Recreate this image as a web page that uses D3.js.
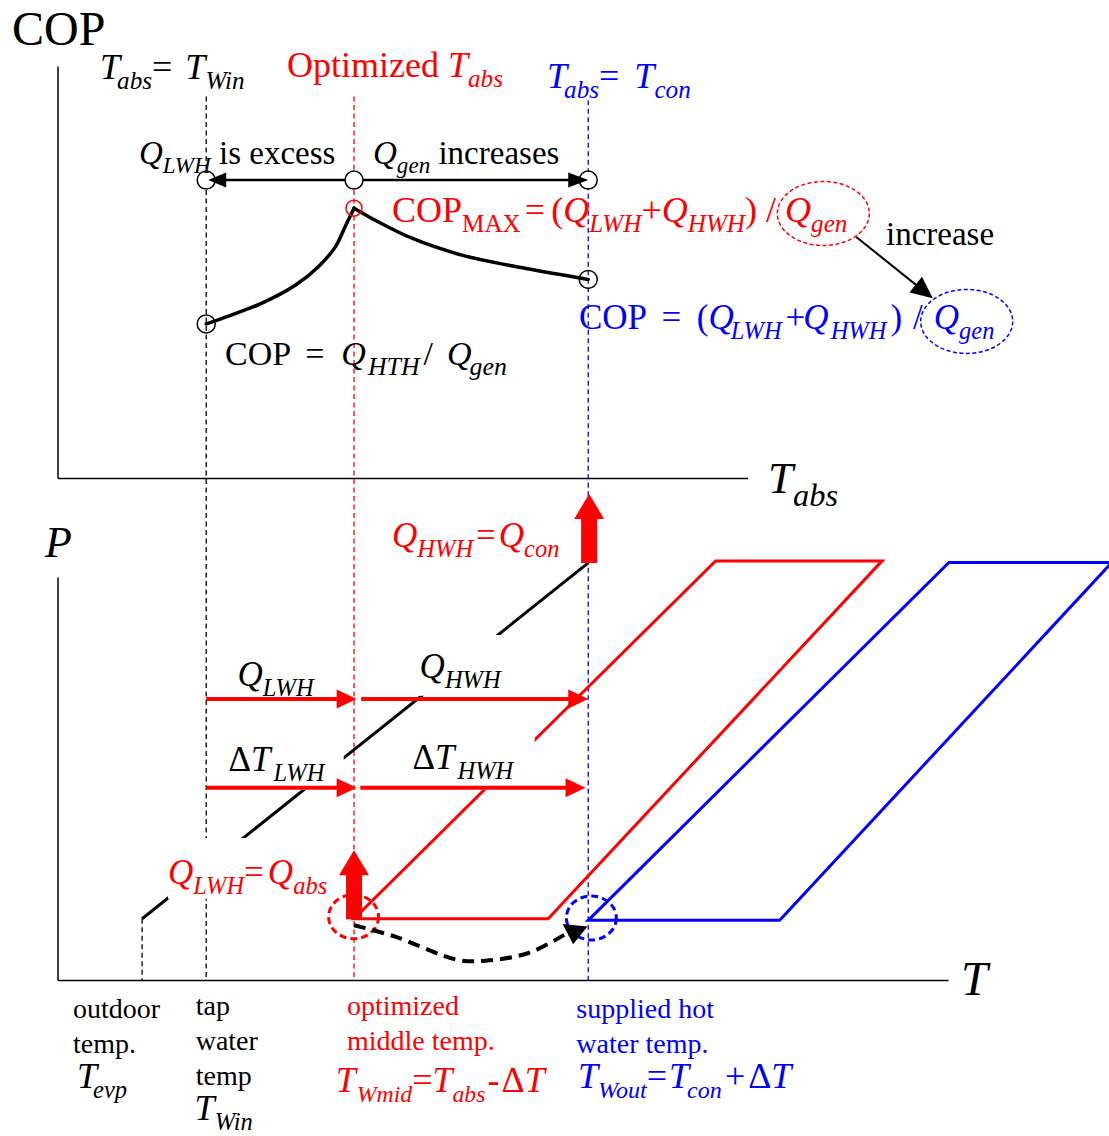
<!DOCTYPE html>
<html>
<head>
<meta charset="utf-8">
<script src="https://cdn.jsdelivr.net/npm/d3@7"></script>
<style>
  html, body { margin: 0; padding: 0; background: #fff; }
  svg { display: block; }
  text { font-family: "Liberation Serif", "Times New Roman", serif; white-space: pre; }
</style>
</head>
<body>
<svg id="chart" width="1109" height="1136"></svg>
<script>
// ---- Data (temperature T and pressure P in relative units, COP in relative units) ----

// Characteristic temperatures on the T axis
const T_EVP = 9.5;    // outdoor temperature
const T_WIN = 16.7;   // tap water temperature
const T_MID = 33.3;   // optimized middle temperature (= optimized T_abs)
const T_OUT = 59.6;   // supplied hot water temperature (= T_con)

// COP versus absorber temperature, split at the optimum
const copRising  = [[16.7, 37.4], [19.2, 39.3], [22.9, 42.4], [26.7, 46.8], [29.3, 51.3], [31.2, 56.1], [32.3, 61.0], [33.3, 65.5]];
const copFalling = [[33.3, 65.5], [36.0, 62.2], [39.8, 58.2], [45.4, 54.1], [51.0, 51.5], [59.6, 48.2]];
const copEnds    = [[16.7, 37.4], [59.6, 48.2]];
const copMax     = [33.3, 65.5];
const copRangeLevel = 72.3;

// Q_gen ellipses and the "increase" arrow between them
const genMax   = [86.0, 64.2];
const genHot   = [102.1, 38.0];
const genShift = [[89.7, 58.5], [98.3, 43.6]];

// P–T diagram: vapour-compression line and the two solution cycles
const compLine  = [[9.5, 15.2], [59.6, 103.5]];
const absCycle  = [[33.3, 15.2], [55.1, 15.2], [92.6, 104.0], [73.9, 104.0]];
const conCycle  = [[59.6, 14.8], [81.1, 14.8], [118.4, 103.6], [100.1, 103.6]];

// Water heating steps (from T, to T, at P)
const heatSteps = [
  { from: 16.7, to: 33.6, P: 69.7 },
  { from: 34.1, to: 59.6, P: 69.7 },
  { from: 16.7, to: 33.6, P: 47.7 },
  { from: 34.0, to: 59.3, P: 47.7 }
];

// Heat released by absorber and condenser (T, base P, rise in P)
const heatOut = [
  { T: 33.3, P: 15.1, dP: 17.1 },
  { T: 59.7, P: 103.5, dP: 17.1 }
];

// Marked state points and the transfer path between them
const statePoints = [
  { T: 33.25, P: 15.7, color: "#ff0000" },
  { T: 59.95, P: 15.4, color: "#0000ff" }
];
const transferPath = [[33.3, 13.6], [38.0, 10.7], [44.9, 5.0], [48.1, 4.8], [52.9, 6.7], [56.9, 11.2]];
const transferTip  = [57.9, 8.9];

// ---- Scales ----
const x  = d3.scaleLinear().domain([0, 100]).range([57.5, 948]);
const yC = d3.scaleLinear().domain([0, 100]).range([478, 66]);
const yP = d3.scaleLinear().domain([0, 100]).range([980, 577]);
const xTop = d3.scaleLinear().domain([0, 77.5]).range([x(0), x(77.5)]);

const RED = "#ff0000", BLUE = "#0000ff", BLACK = "#000000";

const svg = d3.select("#chart");
const layerGuides = svg.append("g");
const layerLines  = svg.append("g");
const layerBoxes  = svg.append("g");
const layerMarks  = svg.append("g");
const layerText   = svg.append("g");

// ---- Helpers ----
function arrowHead(g, tx, ty, angle, len, hw, color) {
  const bx = tx - len * Math.cos(angle), by = ty - len * Math.sin(angle);
  const nx = -Math.sin(angle) * hw, ny = Math.cos(angle) * hw;
  g.append("path")
    .attr("d", `M${tx},${ty}L${bx + nx},${by + ny}L${bx - nx},${by - ny}Z`)
    .attr("fill", color);
}

function blockArrow(g, cx, yBase, yTip, shaftW, headW, headL, color) {
  const s = shaftW / 2, h = headW / 2, yh = yTip + headL;
  g.append("path")
    .attr("d", `M${cx - s},${yBase}L${cx - s},${yh}L${cx - h},${yh}L${cx},${yTip}L${cx + h},${yh}L${cx + s},${yh}L${cx + s},${yBase}Z`)
    .attr("fill", color);
}

// Rich text: parts are [kind, string, dx]; kind r / i / sr / si (s = subscript, i = italic)
function label(x0, y0, size, color, parts, opt = {}) {
  const subRatio = opt.sub || 0.7;
  const t = layerText.append("text")
    .attr("x", x0).attr("y", y0)
    .attr("font-size", size).attr("fill", color)
    .attr("xml:space", "preserve");
  let shift = 0;
  parts.forEach(([kind, str, dx]) => {
    const isSub = kind[0] === "s";
    const off = isSub ? size * 0.28 : 0;
    const s = t.append("tspan").text(str)
      .attr("font-style", kind.endsWith("i") ? "italic" : "normal")
      .attr("font-size", isSub ? size * subRatio : size);
    if (off !== shift) s.attr("dy", off - shift);
    if (dx) s.attr("dx", dx);
    shift = off;
  });
  if (opt.pad) {
    const b = t.node().getBBox();
    const [l, tp, r, bt] = opt.pad;
    layerBoxes.append("rect")
      .attr("x", b.x - l).attr("y", b.y - tp)
      .attr("width", b.width + l + r).attr("height", b.height + tp + bt)
      .attr("fill", "#fff");
  }
  return t;
}

// ---- Axes ----
function plainAxis(g, axis, transform) {
  const a = g.append("g").attr("transform", transform).call(axis);
  a.select(".domain").attr("stroke", BLACK).attr("stroke-width", 1.5);
}
plainAxis(layerLines, d3.axisBottom(xTop).tickValues([]).tickSizeOuter(0), `translate(0,${yC(0)})`);
plainAxis(layerLines, d3.axisLeft(yC).tickValues([]).tickSizeOuter(0), `translate(${x(0)},0)`);
plainAxis(layerLines, d3.axisBottom(x).tickValues([]).tickSizeOuter(0), `translate(0,${yP(0)})`);
plainAxis(layerLines, d3.axisLeft(yP).tickValues([]).tickSizeOuter(0), `translate(${x(0)},0)`);

// ---- Dashed temperature guides running through both diagrams ----
const guides = [
  { T: T_WIN, top: 92.6, color: BLACK },
  { T: T_MID, top: 92.6, color: RED },
  { T: T_OUT, top: 91.7, color: BLUE }
];
layerGuides.selectAll("line.guide").data(guides).join("line")
  .attr("class", "guide")
  .attr("x1", d => x(d.T)).attr("x2", d => x(d.T))
  .attr("y1", d => yC(d.top)).attr("y2", yP(0))
  .attr("stroke", d => d.color).attr("stroke-width", 1.3)
  .attr("stroke-dasharray", "5,3.5");
layerGuides.append("line")
  .attr("x1", x(T_EVP)).attr("x2", x(T_EVP))
  .attr("y1", yP(compLine[0][1])).attr("y2", yP(0))
  .attr("stroke", BLACK).attr("stroke-width", 1.3).attr("stroke-dasharray", "5,3.5");

// ---- COP diagram ----
const copLine = d3.line().x(d => x(d[0])).y(d => yC(d[1])).curve(d3.curveCatmullRom.alpha(0.5));
[copRising, copFalling].forEach(branch => {
  layerLines.append("path").attr("d", copLine(branch))
    .attr("fill", "none").attr("stroke", BLACK).attr("stroke-width", 3.5).attr("stroke-linecap", "round");
});
layerMarks.selectAll("circle.copEnd").data(copEnds).join("circle")
  .attr("class", "copEnd")
  .attr("cx", d => x(d[0])).attr("cy", d => yC(d[1])).attr("r", 9)
  .attr("fill", "none").attr("stroke", BLACK).attr("stroke-width", 1.5);
layerMarks.append("circle")
  .attr("cx", x(copMax[0])).attr("cy", yC(copMax[1])).attr("r", 8)
  .attr("fill", "none").attr("stroke", RED).attr("stroke-width", 1.5);

// Range arrow from the optimum towards T_Win and T_con
const yr = yC(copRangeLevel);
layerMarks.append("line")
  .attr("x1", x(T_WIN)).attr("x2", x(T_OUT)).attr("y1", yr).attr("y2", yr)
  .attr("stroke", BLACK).attr("stroke-width", 2.5);
layerMarks.selectAll("circle.range").data([T_WIN, T_MID, T_OUT]).join("circle")
  .attr("class", "range")
  .attr("cx", d => x(d)).attr("cy", yr).attr("r", 9)
  .attr("fill", "#fff").attr("stroke", BLACK).attr("stroke-width", 1.5);
arrowHead(layerMarks, x(T_WIN) + 2, yr, Math.PI, 18, 7.5, BLACK);
arrowHead(layerMarks, x(T_OUT), yr, 0, 20, 7.5, BLACK);

// Q_gen ellipses
[[genMax, RED], [genHot, BLUE]].forEach(([c, col]) => {
  layerMarks.append("ellipse")
    .attr("cx", x(c[0])).attr("cy", yC(c[1])).attr("rx", 46).attr("ry", 32)
    .attr("fill", "none").attr("stroke", col).attr("stroke-width", 1.5)
    .attr("stroke-dasharray", "4,2.5");
});
{
  const [a, b] = genShift;
  const x1 = x(a[0]), y1 = yC(a[1]), x2 = x(b[0]), y2 = yC(b[1]);
  const ang = Math.atan2(y2 - y1, x2 - x1);
  layerMarks.append("line")
    .attr("x1", x1).attr("y1", y1)
    .attr("x2", x2 - 18 * Math.cos(ang)).attr("y2", y2 - 18 * Math.sin(ang))
    .attr("stroke", BLACK).attr("stroke-width", 2);
  arrowHead(layerMarks, x2, y2, ang, 22, 10, BLACK);
}

// ---- P–T diagram ----
const ptLine = d3.line().x(d => x(d[0])).y(d => yP(d[1]));
layerLines.append("path").attr("d", ptLine(compLine))
  .attr("fill", "none").attr("stroke", BLACK).attr("stroke-width", 3);
layerLines.append("path").attr("d", ptLine(absCycle) + "Z")
  .attr("fill", "none").attr("stroke", RED).attr("stroke-width", 3);
layerLines.append("path").attr("d", ptLine(conCycle) + "Z")
  .attr("fill", "none").attr("stroke", BLUE).attr("stroke-width", 3);

// State point markers
layerMarks.selectAll("ellipse.state").data(statePoints).join("ellipse")
  .attr("class", "state")
  .attr("cx", d => x(d.T)).attr("cy", d => yP(d.P)).attr("rx", 25).attr("ry", 22)
  .attr("fill", "none").attr("stroke", d => d.color).attr("stroke-width", 3)
  .attr("stroke-dasharray", "7,4");

// Transfer path between the absorber outlet and condenser inlet
const curvy = d3.line().x(d => x(d[0])).y(d => yP(d[1])).curve(d3.curveCatmullRom.alpha(0.5));
layerMarks.append("path").attr("d", curvy(transferPath))
  .attr("fill", "none").attr("stroke", BLACK).attr("stroke-width", 4)
  .attr("stroke-dasharray", "12,7");
arrowHead(layerMarks, x(transferTip[0]), yP(transferTip[1]), 96 * Math.PI / 180, 19, 12.5, BLACK);

// Water heating steps
heatSteps.forEach(s => {
  const x1 = x(s.from), x2 = x(s.to), yy = yP(s.P);
  layerMarks.append("line")
    .attr("x1", x1).attr("x2", x2 - 16).attr("y1", yy).attr("y2", yy)
    .attr("stroke", RED).attr("stroke-width", 4);
  arrowHead(layerMarks, x2, yy, 0, 20, 9.5, RED);
});

// Heat output arrows
heatOut.forEach(h => {
  blockArrow(layerMarks, x(h.T), yP(h.P), yP(h.P + h.dP), 16, 30, 25, RED);
});

// ---- Text ----
// COP diagram
label(12, 45, 48, BLACK, [["r", "COP"]]);
label(100, 79, 36, BLACK, [["i", "T"], ["si", "abs", -3], ["r", "= "], ["i", "T", 4], ["si", "Win"]]);
label(287, 77, 36, RED, [["r", "Optimized "], ["i", "T"], ["si", "abs"]]);
label(547, 88, 36, BLUE, [["i", "T"], ["si", "abs", -3], ["r", "= "], ["i", "T", 6], ["si", "con"]]);
label(139, 164, 33, BLACK, [["i", "Q"], ["si", "LWH"], ["r", " is excess"]]);
label(373, 164, 33, BLACK, [["i", "Q"], ["si", "gen"], ["r", " increases"]]);
label(392, 222, 36, RED, [["r", "COP"], ["sr", "MAX"], ["r", "=", 4], ["r", "(", 6], ["i", "Q"], ["si", "LWH"], ["r", "+"],
  ["i", "Q"], ["si", "HWH"], ["r", ") /"], ["i", "Q", 9], ["si", "gen"]]);
label(886, 245, 33, BLACK, [["r", "increase"]]);
label(579, 329, 35, BLUE, [["r", "COP"], ["r", "=", 14.5], ["r", "(", 15.5], ["i", "Q"], ["si", "LWH", -3], ["r", "+", 4],
  ["i", "Q", -2], ["si", "HWH", 2], ["r", ")", 4], ["r", "/", 11], ["i", "Q", 11], ["si", "gen"]]);
label(225, 365, 34, BLACK, [["r", "COP"], ["r", "=", 14], ["i", "Q", 17], ["si", "HTH", 2], ["r", "/", 4], ["i", "Q", 14], ["si", "gen", -2]], { sub: 0.76 });
label(768, 493, 45, BLACK, [["i", "T"], ["si", "abs"]], { sub: 0.72 });

// P–T diagram
label(45, 557, 44, BLACK, [["i", "P"]]);
label(961, 995, 48, BLACK, [["i", "T"]]);
label(392, 547, 35, RED, [["i", "Q"], ["si", "HWH"], ["r", "=", 3], ["i", "Q", 3], ["si", "con"]]);
label(237.5, 686, 35, BLACK, [["i", "Q"], ["si", "LWH"]]);
label(419.6, 678, 35, BLACK, [["i", "Q"], ["si", "HWH"]], { pad: [2, 12, 4, 3] });
label(228.6, 771, 35, BLACK, [["r", "Δ"], ["i", "T"], ["si", "LWH", 3]], { pad: [14, 4, 18, 4] });
label(412.5, 769, 35, BLACK, [["r", "Δ"], ["i", "T"], ["si", "HWH", 3]], { pad: [4, 4, 20, 6] });
label(168, 884, 35, RED, [["i", "Q"], ["si", "LWH"], ["r", "="], ["i", "Q", 4], ["si", "abs"]], { pad: [0, 15, 2, 0] });

// Temperature annotations under the T axis
[["outdoor", 1018], ["temp.", 1053]].forEach(([s, yy]) => label(73, yy, 28, BLACK, [["r", s]]));
label(77, 1088, 36, BLACK, [["i", "T"], ["si", "evp", -4]], { sub: 0.68 });
[["tap", 1015], ["water", 1050], ["temp", 1085]].forEach(([s, yy]) => label(195.7, yy, 28, BLACK, [["r", s]]));
label(194.6, 1120, 36, BLACK, [["i", "T"], ["si", "Win"]], { sub: 0.68 });
[["optimized", 1015], ["middle temp.", 1050]].forEach(([s, yy]) => label(347, yy, 28, RED, [["r", s]]));
label(335.7, 1092, 36, RED, [["i", "T"], ["si", "Wmid", 1], ["r", "="], ["i", "T"], ["si", "abs"], ["r", "-", 2], ["r", "Δ", 2], ["i", "T"]], { sub: 0.66 });
[["supplied hot", 1018], ["water temp.", 1053]].forEach(([s, yy]) => label(576.3, yy, 28, BLUE, [["r", s]]));
label(578, 1088, 36, BLUE, [["i", "T"], ["si", "Wout"], ["r", "="], ["i", "T", 2], ["si", "con", -2], ["r", "+", 3], ["r", "Δ", 3], ["i", "T"]], { sub: 0.67 });
</script>
</body>
</html>
